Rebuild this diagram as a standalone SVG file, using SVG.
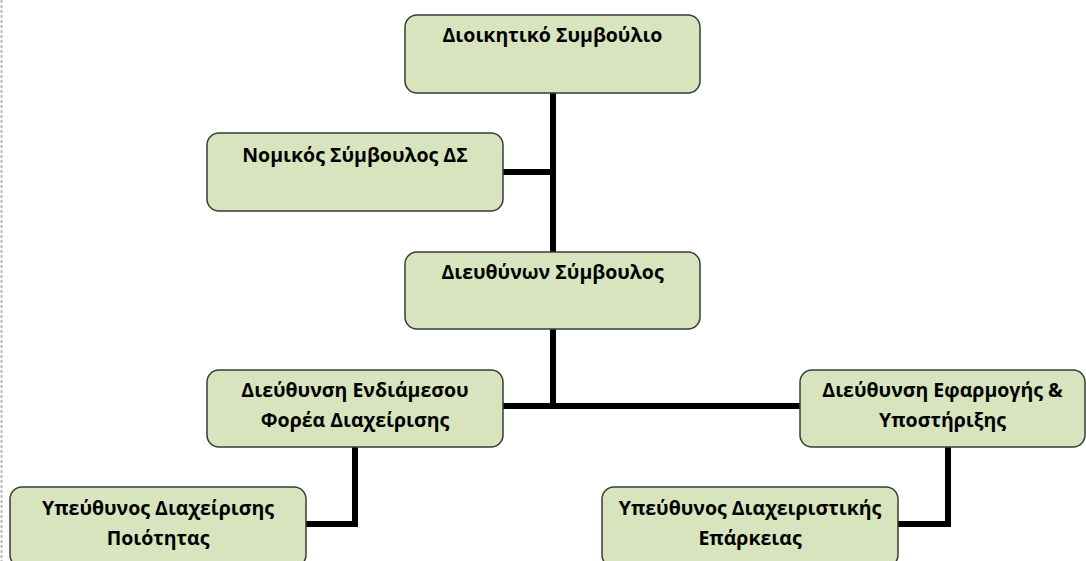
<svg xmlns="http://www.w3.org/2000/svg" width="1086" height="561" viewBox="0 0 1086 561">
<style>
.box{fill:#d7e4bd;stroke:#3a3a3a;stroke-width:1.5}
.t{font-family:"Open Sans","Noto Sans","DejaVu Sans",sans-serif;font-weight:bold;font-size:19.5px;fill:#000;text-anchor:middle}
.c{fill:none;stroke:#000;stroke-width:6;stroke-linejoin:miter}
</style>
<rect width="1086" height="561" fill="#fff"/>
<line x1="1.5" y1="0" x2="1.5" y2="561" stroke="#b8b8b8" stroke-width="2" stroke-dasharray="3,2"/>
<g id="connectors">
<path class="c" d="M553,93 V406"/>
<path class="c" d="M503,172 H553"/>
<path class="c" d="M503,406 H800"/>
<path class="c" d="M355,447 V524 H306"/>
<path class="c" d="M948,447 V524 H898"/>
</g>
<g id="n1"><rect class="box" x="405" y="15" width="295" height="78" rx="12"/><text class="t" x="552.5" y="42">Διοικητικό Συμβούλιο</text></g>
<g id="n2"><rect class="box" x="207" y="133" width="296" height="78" rx="12"/><text class="t" x="355" y="162">Νομικός Σύμβουλος ΔΣ</text></g>
<g id="n3"><rect class="box" x="405" y="252" width="295" height="77" rx="12"/><text class="t" x="552.5" y="279">Διευθύνων Σύμβουλος</text></g>
<g id="n4"><rect class="box" x="207" y="370" width="296" height="77" rx="12"/><text class="t" x="355" y="397">Διεύθυνση Ενδιάμεσου</text><text class="t" x="355" y="427">Φορέα Διαχείρισης</text></g>
<g id="n5"><rect class="box" x="800" y="370" width="285" height="77" rx="12"/><text class="t" x="942.5" y="397">Διεύθυνση Εφαρμογής &amp;</text><text class="t" x="942.5" y="427">Υποστήριξης</text></g>
<g id="n6"><rect class="box" x="10" y="487" width="296" height="80" rx="12"/><text class="t" x="158" y="515">Υπεύθυνος Διαχείρισης</text><text class="t" x="158" y="545">Ποιότητας</text></g>
<g id="n7"><rect class="box" x="602" y="487" width="296" height="80" rx="12"/><text class="t" x="750" y="515">Υπεύθυνος Διαχειριστικής</text><text class="t" x="750" y="545">Επάρκειας</text></g>
</svg>
